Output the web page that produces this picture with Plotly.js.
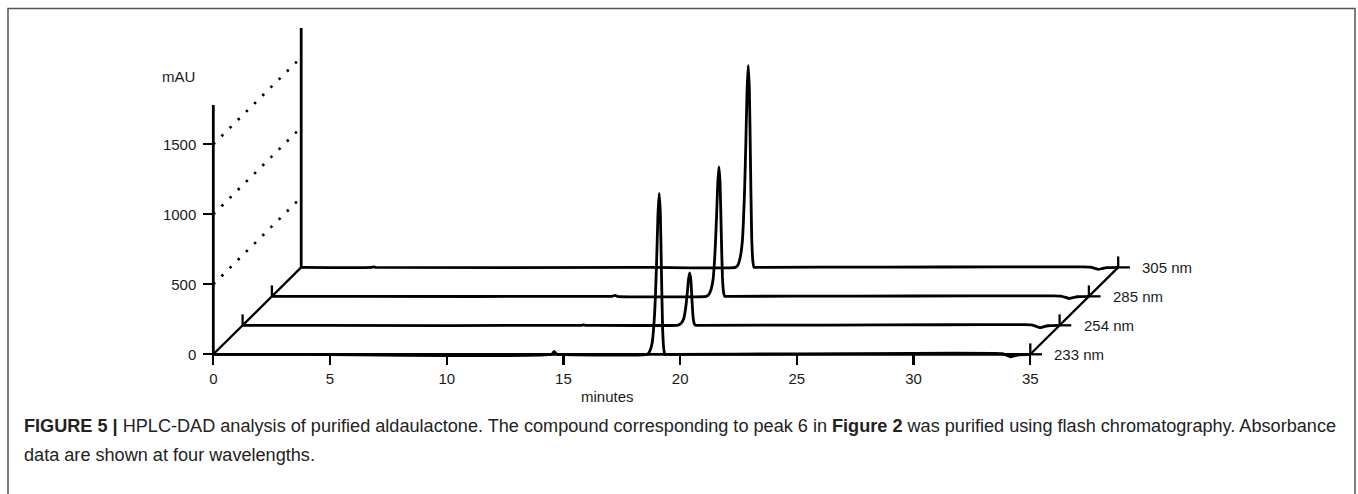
<!DOCTYPE html>
<html><head><meta charset="utf-8">
<script src="https://cdn.plot.ly/plotly-3.0.1.min.js"></script>
<style>html,body{margin:0;padding:0;background:#fff}#chart{width:1358px;height:494px}</style>
</head><body><div id="chart"></div>
<script>
// ---- data ----
const minutes = [0, 3.0, 3.1, 3.2, 14.5, 14.6, 14.7, 14.8,
  18.6, 18.7, 18.8, 18.9, 18.95, 19.0, 19.05, 19.1, 19.15, 19.2, 19.25, 19.3, 19.35, 19.4, 19.5, 19.6,
  25, 30, 33.5, 33.8, 34.0, 34.15, 34.3, 34.5, 35];
const abs233 = [0, 0, 0, 0, 0, 20, 2, 0,
  0, 23, 80, 276, 460, 713, 1000, 1150, 1012, 575, 173, 35, 0, 0, 0, 0,
  3, 7, 7, 4, -8, -18, -12, -4, 0];
const abs254 = [0, 0, 0, 0, 0, 3, 0, 0,
  0, 4, 17, 49, 90, 150, 232, 325, 374, 329, 187, 56, 11, 0, 0, 0,
  2, 4, 5, 3, -8, -17, -11, -3, 0];
const abs285 = [0, 0, 0, 0, 0, 2, 7, 0,
  0, 9, 42, 120, 222, 370, 573, 804, 924, 813, 462, 139, 28, 0, 0, 0,
  2, 3, 4, 2, -7, -15, -10, -3, 0];
const abs305 = [0, 0, 4, 0, 0, 0, 0, 0,
  0, 14, 65, 188, 346, 577, 895, 1255, 1443, 1270, 722, 216, 43, 0, 0, 0,
  2, 3, 4, 2, -7, -14, -9, -2, 0];
const wavelengths = ['233 nm', '254 nm', '285 nm', '305 nm'];
const xTickVals = [0, 5, 10, 15, 20, 25, 30, 35];
const yTickVals = [0, 500, 1000, 1500];
const guideLevels = [500, 1000, 1500];
const xLabel = 'minutes';
const yLabel = 'mAU';
const captionBold1 = 'FIGURE 5 |';
const captionText1 = ' HPLC-DAD analysis of purified aldaulactone. The compound corresponding to peak 6 in ';
const captionBold2 = 'Figure 2';
const captionText2 = ' was purified using flash chromatography. Absorbance';
const captionLine2 = 'data are shown at four wavelengths.';

// ---- layout constants ----
const W = 1358, H = 494;
const PX_PER_MIN = 817 / 35, PX_PER_MAU = 70 / 500;
const ORIGIN_X = 213.3, ORIGIN_Y = 354.3;
const X0 = -ORIGIN_X / PX_PER_MIN, X1 = X0 + W / PX_PER_MIN;
const Y1 = ORIGIN_Y / PX_PER_MAU, Y0 = Y1 - H / PX_PER_MAU;
const DX = 1.255, DY = 207;          // waterfall offset per wavelength
const TICK_UP = 78;                   // small upward ticks (mAU)
const T_END = 35;
const series = [abs233, abs254, abs285, abs305];
const N = series.length;
const BLACK = '#000';
const LW = 2.8;

// caption font size fitted to the reference line width
const SANS = '"Liberation Sans", Arial, Helvetica, sans-serif';
function measure(txt, weight, size) {
  const c = document.createElement('canvas').getContext('2d');
  c.font = weight + ' ' + size + 'px ' + SANS;
  return c.measureText(txt).width;
}
const w17 = measure(captionBold1, 'bold', 17) + measure(captionText1, 'normal', 17) +
            measure(captionBold2, 'bold', 17) + measure(captionText2, 'normal', 17);
const capSize = Math.max(14, Math.min(19, 17 * 1314 / w17));

const traces = series.map((vals, i) => ({
  type: 'scatter', mode: 'lines',
  x: minutes.map(t => t + i * DX),
  y: vals.map(v => v + i * DY),
  line: { color: BLACK, width: LW, shape: 'spline', smoothing: 0.45 },
  hoverinfo: 'skip', showlegend: false, name: wavelengths[i]
}));

const shapes = [];
function seg(x0, y0, x1, y1, w, dash) {
  shapes.push({ type: 'line', xref: 'x', yref: 'y', x0, y0, x1, y1,
    line: { color: BLACK, width: w, dash: dash || 'solid' }, layer: 'above' });
}
// axes frame
seg(0, 0, T_END, 0, LW);
seg(0, 0, 0, 1781, LW);
seg(0, 0, (N - 1) * DX, (N - 1) * DY, 2.3);
seg((N - 1) * DX, (N - 1) * DY, (N - 1) * DX, 2331, LW);
seg(T_END, 0, T_END + (N - 1) * DX, (N - 1) * DY, 2.3);
for (let i = 0; i < N; i++) {
  if (i > 0 && i < N - 1) seg(i * DX, i * DY, i * DX, i * DY + TICK_UP, 2.3);
  seg(T_END + i * DX, i * DY, T_END + i * DX, i * DY + TICK_UP, 2.3);
  seg(T_END + i * DX, i * DY, T_END + i * DX + 0.5, i * DY, 2.3);
}
guideLevels.forEach(v => seg(0, v, (N - 1) * DX, v + (N - 1) * DY, 2.6, '2.5px,9px'));
// outer figure frame
shapes.push({ type: 'rect', xref: 'paper', yref: 'paper', x0: 8 / W, x1: 1355 / W, y0: -0.02, y1: 1 - 8.5 / H,
  line: { color: '#555', width: 1.5 }, fillcolor: 'rgba(0,0,0,0)' });

const labFont = { family: SANS, size: 15, color: '#1a1a1a' };
const annotations = wavelengths.map((w, i) => ({
  xref: 'x', yref: 'y', x: T_END + i * DX + 0.95, y: i * DY, text: w, showarrow: false,
  xanchor: 'left', yanchor: 'middle', font: labFont
}));
annotations.push({ xref: 'x', yref: 'y', x: -1.5, y: 1981, text: yLabel, showarrow: false,
  xanchor: 'center', yanchor: 'middle', font: labFont });
annotations.push({ xref: 'x', yref: 'y', x: 16.9, y: -298, text: xLabel, showarrow: false,
  xanchor: 'center', yanchor: 'middle', font: labFont });
const capFont = { family: SANS, size: capSize, color: '#222' };
annotations.push({ xref: 'paper', yref: 'paper', x: 22 / W, y: 1 - 426 / H,
  text: '<b>' + captionBold1 + '</b>' + captionText1 + '<b>' + captionBold2 + '</b>' + captionText2,
  showarrow: false, xanchor: 'left', yanchor: 'middle', font: capFont, align: 'left' });
annotations.push({ xref: 'paper', yref: 'paper', x: 22 / W, y: 1 - 455 / H, text: captionLine2, showarrow: false,
  xanchor: 'left', yanchor: 'middle', font: capFont, align: 'left' });

const layout = {
  width: W, height: H, margin: { l: 0, r: 0, t: 0, b: 0 },
  paper_bgcolor: '#fff', plot_bgcolor: '#fff',
  xaxis: { range: [X0, X1], anchor: 'free', position: 1 - ORIGIN_Y / H, showline: false, showgrid: false,
    zeroline: false, ticks: 'outside', ticklen: 10, tickwidth: 2.3, tickcolor: BLACK, ticklabelstandoff: 1,
    tickvals: xTickVals, ticktext: xTickVals.map(String), tickfont: labFont, fixedrange: true },
  yaxis: { range: [Y0, Y1], anchor: 'free', position: ORIGIN_X / W, side: 'left', showline: false, showgrid: false,
    zeroline: false, ticks: 'outside', ticklen: 10, tickwidth: 2.3, tickcolor: BLACK, ticklabelstandoff: 4,
    tickvals: yTickVals, ticktext: yTickVals.map(String), tickfont: labFont, fixedrange: true },
  shapes, annotations, showlegend: false
};
Plotly.newPlot('chart', traces, layout, { staticPlot: true, displayModeBar: false });
</script></body></html>
